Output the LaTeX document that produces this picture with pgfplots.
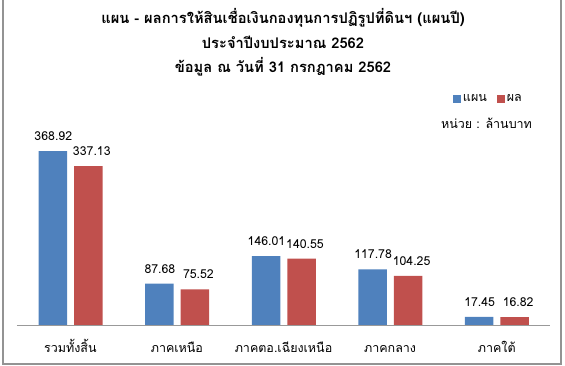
\documentclass[border=0pt]{standalone}
\usepackage{fontspec}
\setmainfont[Script=Thai]{Loma}
\usepackage{pgfplots}
\pgfplotsset{compat=1.18}
\definecolor{blueC}{HTML}{4F81BD}
\definecolor{redC}{HTML}{C0504D}
\begin{document}
\begin{tikzpicture}[x=1pt,y=1pt]
\useasboundingbox (0,0) rectangle (565,366);
\draw[color=gray!85, line width=1.2pt] (3,366) -- (3,2) -- (561,2) -- (561,366);
\begin{axis}[
  at={(17pt,41pt)}, anchor=south west,
  scale only axis, width=533pt, height=188.6pt,
  xmin=-0.5, xmax=4.5, ymin=0, ymax=400,
  axis x line*=bottom, axis y line=none,
  x axis line style={draw=gray!80, -, line width=0.8pt},
  xtick={0,1,2,3,4},
  xticklabels={รวมทั้งสิ้น, ภาคเหนือ, ภาคตอ.เฉียงเหนือ, ภาคกลาง, ภาคใต้},
  major tick length=0pt,
  xticklabel style={font=\fontsize{12.5}{15}\selectfont, anchor=base, yshift=-28pt},
  ytick=\empty,
  nodes near coords,
  every node near coord/.append style={font=\fontsize{12.3}{15}\selectfont, black, yshift=7pt},
  /pgf/number format/.cd, fixed, fixed zerofill, precision=2, assume math mode=true, /pgfplots/.cd,
  legend columns=2,
  legend style={at={(0.812,1.198)}, anchor=west, draw=none, fill=none,
    font=\fontsize{12.5}{15}\selectfont,
    /tikz/every even column/.append style={column sep=8pt}},
  legend image code/.code={\fill[#1] (0pt,-4pt) rectangle (8pt,4pt);},
]
\addplot[ybar, bar width=28.5pt, bar shift=-17.5pt, fill=blueC, draw=none,
  nodes near coords style={xshift=-17pt}]
  coordinates {(0,368.92) (1,87.68) (2,146.01) (3,117.78) (4,17.45)};
\addplot[ybar, bar width=28.5pt, bar shift=18pt, fill=redC, draw=none,
  nodes near coords style={xshift=21.5pt}]
  coordinates {(0,337.13) (1,75.52) (2,140.55) (3,104.25) (4,16.82)};
\legend{แผน, ผล}
\end{axis}
\node[font=\fontsize{12.5}{15}\selectfont] at (486.5,243) {หน่วย : ล้านบาท};
\node[font=\bfseries\fontsize{14.7}{18}\selectfont, anchor=base] at (283,342) {แผน - ผลการให้สินเชื่อเงินกองทุนการปฏิรูปที่ดินฯ (แผนปี)};
\node[font=\bfseries\fontsize{14.7}{18}\selectfont, anchor=base] at (283,317.5) {ประจำปีงบประมาณ 2562};
\node[font=\bfseries\fontsize{14.7}{18}\selectfont, anchor=base] at (283,293) {ข้อมูล ณ วันที่ 31 กรกฎาคม 2562};
\end{tikzpicture}
\end{document}
